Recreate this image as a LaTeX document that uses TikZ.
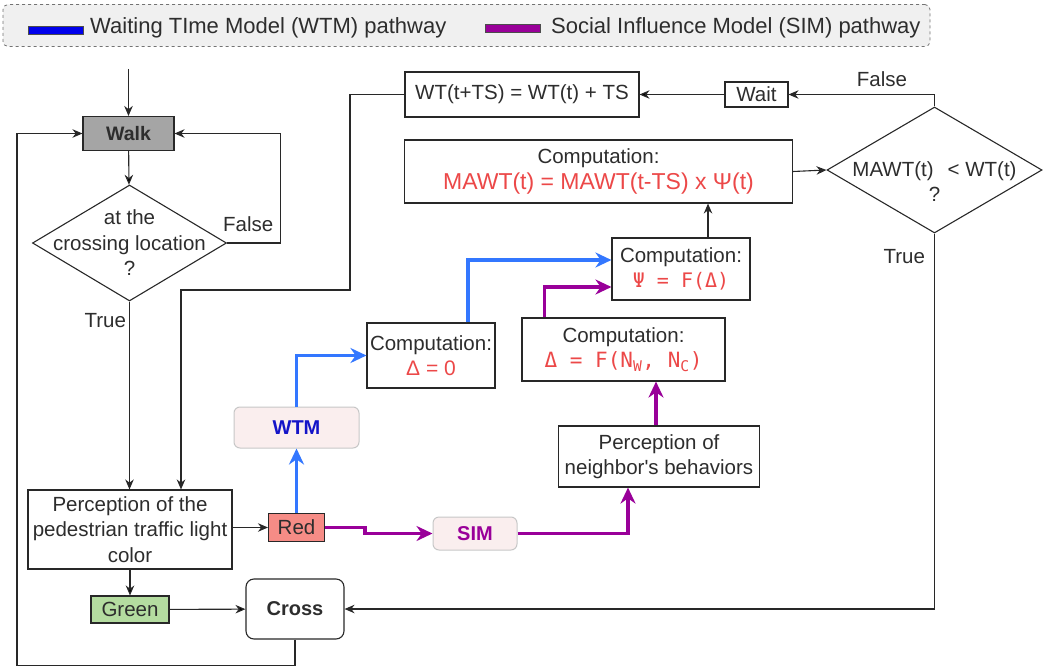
\documentclass[tikz,border=0pt]{standalone}
\usepackage{fontspec}
\setmainfont{Liberation Sans}
\newfontfamily\formfont{DejaVu Sans Mono}
\usetikzlibrary{arrows.meta,shapes.geometric}

\definecolor{txtgray}{RGB}{45,45,45}
\definecolor{linegray}{RGB}{40,40,40}
\definecolor{keyblue}{RGB}{0,0,235}
\definecolor{wtmblue}{RGB}{51,119,255}
\definecolor{wtmtext}{RGB}{20,20,200}
\definecolor{simpurple}{RGB}{153,0,153}
\definecolor{formred}{RGB}{236,72,72}
\definecolor{walkgray}{RGB}{165,165,165}
\definecolor{redfill}{RGB}{246,140,134}
\definecolor{greenfill}{RGB}{180,220,160}
\definecolor{pinkfill}{RGB}{250,238,238}
\definecolor{legendfill}{RGB}{240,240,240}

\tikzset{
  box/.style={rectangle, draw=linegray, line width=1.1pt, fill=white, text=txtgray, align=center, inner sep=1pt},
  walkbox/.style={box, fill=walkgray, font=\fontsize{19.5}{25}\selectfont\bfseries},
  decision/.style={diamond, draw=linegray, line width=1.1pt, text=txtgray, align=center, inner sep=-20pt},
  model/.style={rectangle, rounded corners=6pt, draw=black!22, line width=1pt, fill=pinkfill, font=\fontsize{20}{25}\selectfont\bfseries},
  keybar/.style={rectangle, draw=black!70, line width=0.8pt, minimum width=55, minimum height=8, inner sep=0pt},
  keytext/.style={text=txtgray, font=\fontsize{22}{26}\selectfont, inner sep=0pt},
  flow/.style={draw=linegray, line width=1.1pt, ->},
  wtmpath/.style={draw=wtmblue, line width=3.5pt, -{Stealth[length=16pt,width=15pt]}},
  simpath/.style={draw=simpurple, line width=3.5pt, -{Stealth[length=16pt,width=15pt]}},
  tag/.style={text=txtgray, inner sep=1pt}
}

\begin{document}
\begin{tikzpicture}[x=1pt, y=-1pt, >={Stealth[length=10pt,width=8.5pt]}, font=\fontsize{20.5}{25.5}\selectfont]
	\useasboundingbox (0,0) rectangle (1043,666);

	% Legend
	\node [rectangle, rounded corners=5pt, draw=black!55, dashed, line width=0.8pt, fill=legendfill,
	       minimum width=927, minimum height=42] (legend) at (466.5,25.5) {};
	\node [keybar, fill=keyblue]   (wtmkey) at (55.5,30) {};
	\node [keytext, anchor=west]   (wtmlbl) at (90,28) {Waiting TIme Model (WTM) pathway};
	\node [keybar, fill=simpurple] (simkey) at (512.5,28) {};
	\node [keytext, anchor=west]   (simlbl) at (551,28) {Social Influence Model (SIM) pathway};

	% Nodes {walk, loc, light, red, green, cross, etc}
	\node [walkbox, minimum width=91, minimum height=34]          (walk)  at (128.5,133.5) {Walk};
	\node [decision, shape aspect=1.66, minimum width=194, minimum height=116]
	                                                              (loc)   at (129.5,243) {at the\\crossing location\\?};
	\node [box, minimum width=204, minimum height=79]            (light) at (130,529.5) {Perception of the\\pedestrian traffic light\\color};
	\node [box, fill=redfill, minimum width=56, minimum height=28] (red)  at (296.5,527.5) {Red};
	\node [box, fill=greenfill, minimum width=78, minimum height=27] (green) at (130,609.5) {Green};
	\node [box, rounded corners=8pt, minimum width=98, minimum height=60,
	       font=\fontsize{20}{25}\selectfont\bfseries]            (cross) at (295,609) {Cross};

	\node [model, text=wtmtext, minimum width=125, minimum height=41] (wtm) at (296.5,427.5) {WTM};
	\node [model, text=simpurple, minimum width=84, minimum height=33] (sim) at (475,533.5) {SIM};

	\node [box, minimum width=128, minimum height=65]  (dzero)  at (431,355.5)
	      {Computation:\\{\color{formred}\fontsize{21}{25.5}\selectfont Δ = 0}};
	\node [box, minimum width=203, minimum height=63]  (dneigh) at (623.5,349.5)
	      {Computation:\\{\formfont\color{formred}\fontsize{21}{25.5}\selectfont Δ = F(N\textsubscript{W}, N\textsubscript{C})}};
	\node [box, minimum width=138, minimum height=62]  (psi)    at (681,269)
	      {Computation:\\{\formfont\color{formred}\fontsize{20}{25.5}\selectfont Ψ = F(Δ)}};
	\node [box, minimum width=201, minimum height=61]  (neigh)  at (659,456.5) {Perception of\\neighbor\textquotesingle s behaviors};
	\node [box, minimum width=388, minimum height=63]  (mawt)   at (598.5,171.5)
	      {Computation:\\{\color{formred}\fontsize{23}{27}\selectfont MAWT(t) = MAWT(t-TS) x Ψ(t)}};
	\node [box, minimum width=234, minimum height=45]  (wt)     at (522,94.5) {WT(t+TS) = WT(t) + TS};
	\node [box, minimum width=63, minimum height=25]   (wait)   at (756.5,94.5) {Wait};
	\node [decision, shape aspect=1.7, minimum width=215, minimum height=126] (thresh) at (934.5,170)
	      {\raisebox{-19pt}[0pt][0pt]{\begin{tabular}{@{}c@{}}MAWT(t)\hspace{14pt}< WT(t)\\?\end{tabular}}};

	\coordinate (start) at (128.5,69);
	\coordinate (back)  at (350,290);
	\coordinate (loop)  at (17,400);

	% Paths
	\draw [flow] (start) -- (walk);
	\path [flow] (walk) edge (loc);
	\draw [flow] (loc.east) -- node [tag, above=10pt, pos=0.4] {False} ++(53,0) |- (walk.east);
	\draw [flow] (loc.south) -- node [tag, left=2pt, pos=0.1] {True} (loc.south |- light.north);
	\draw [flow] (wt.west) -| (back) -| ([xshift=51]light.north);
	\draw [flow] (light.east |- red.west) -- (red.west);
	\path [flow] (light) edge (green);
	\path [flow] (green) edge (cross);
	\draw [flow] (cross.south) -- ++(0,26) -| (loop) |- (walk.west);
	\draw [flow] (thresh.south) |- node [tag, left=8pt, pos=0.03] {True} (cross.east);
	\draw [flow] (thresh.north) |- node [tag, above=6pt, pos=0.68] {False} (wait.east);
	\path [flow] (wait) edge (wt);
	\draw [flow] (mawt.east) -- (thresh.west);
	\draw [flow] ([xshift=27]psi.north) -- ([xshift=27]psi.north |- mawt.south);

	% WTM pathway
	\draw [wtmpath] (red) -- (wtm);
	\draw [wtmpath] (wtm.north) |- (dzero.west);
	\draw [wtmpath] ([xshift=37]dzero.north) |- ([yshift=9]psi.west);

	% SIM pathway
	\draw [simpath] (red.east) -- ++(40,0) |- (sim.west);
	\draw [simpath] (sim.east) -| ([xshift=-31]neigh.south);
	\draw [simpath] ([xshift=-3]neigh.north) -- ([xshift=-3]neigh.north |- dneigh.south);
	\draw [simpath] ([xshift=-79]dneigh.north) |- ([yshift=-18]psi.west);
\end{tikzpicture}
\end{document}
